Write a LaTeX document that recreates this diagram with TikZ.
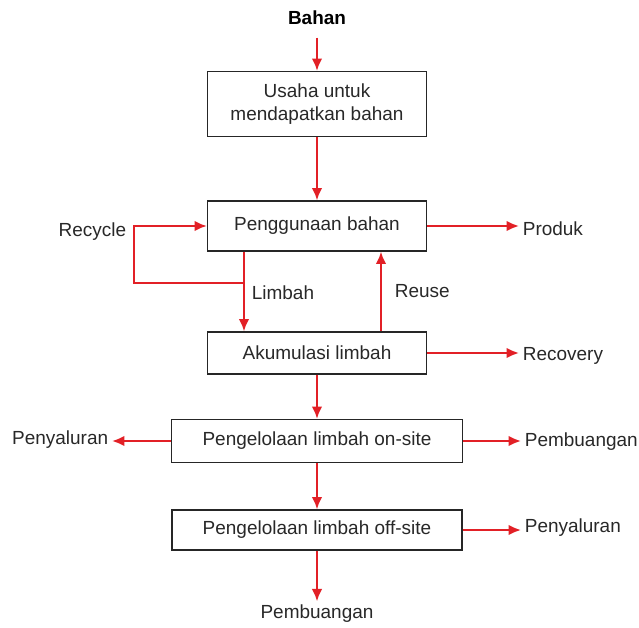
\documentclass[tikz,border=0pt]{standalone}
\usepackage{fontspec}
\setmainfont{Liberation Sans}
\usepackage{tikz}
\usetikzlibrary{arrows.meta}
\definecolor{flowred}{RGB}{226,32,38}
\definecolor{textgray}{RGB}{40,40,40}
\tikzstyle{block} = [draw=black!85, line width=0.8pt, fill=white, rectangle, inner sep=0pt, align=center, text=textgray]
\tikzstyle{tag} = [inner sep=2pt, text=textgray]
\tikzstyle{flow} = [draw=flowred, line width=1.2pt, -{Latex[length=7pt, width=6pt]}]

\begin{document}
\begin{tikzpicture}[x=0.02cm, y=-0.02cm, font=\fontsize{10.8}{13}\selectfont]
  \useasboundingbox (0, 0) rectangle (639, 628);

  \node[tag, font=\fontsize{10.8}{13}\selectfont\bfseries, text=black] at (317, 18) (bahan) {Bahan};
  \node[block, minimum width=4.38cm, minimum height=1.3cm] at (317, 104) (usaha) {Usaha untuk\\mendapatkan bahan};
  \node[block, minimum width=4.38cm, minimum height=1.0cm] at (317, 226) (guna) {Penggunaan bahan};
  \node[block, minimum width=4.38cm, minimum height=0.84cm] at (317, 353) (akum) {Akumulasi limbah};
  \node[block, minimum width=5.82cm, minimum height=0.86cm] at (317, 441) (onsite) {Pengelolaan limbah on-site};
  \node[block, minimum width=5.8cm, minimum height=0.8cm] at (317, 530) (offsite) {Pengelolaan limbah off-site};

  \node[tag, anchor=west] at (519, 229) (produk) {Produk};
  \node[tag, anchor=east] at (130, 232) (recycle) {Recycle};
  \node[tag, anchor=west] at (248, 293) (limbah) {Limbah};
  \node[tag, anchor=west] at (391, 291) (reuse) {Reuse};
  \node[tag, anchor=west] at (519, 356) (recovery) {Recovery};
  \node[tag, anchor=east] at (112, 440) (salurkiri) {Penyaluran};
  \node[tag, anchor=west] at (521, 442) (buangkanan) {Pembuangan};
  \node[tag, anchor=west] at (521, 528) (salurkanan) {Penyaluran};
  \node[tag] at (317, 614) (buangbawah) {Pembuangan};

  \coordinate (split) at (244, 283);
  \coordinate (corner) at (134, 283);
  \coordinate (reusex) at (381, 283);

  \draw[flow, shorten <=5pt] (bahan) -- (usaha);
  \draw[flow] (usaha) -- (guna);
  \draw[flow] (guna.east) -- (guna.east -| produk.west);
  \draw[flow] (split) -- (corner) |- (guna.west);
  \draw[flow] (guna.south -| split) -- (akum.north -| split);
  \draw[flow] (akum.north -| reusex) -- (guna.south -| reusex);
  \draw[flow] (akum.east) -- (akum.east -| recovery.west);
  \draw[flow] (akum) -- (onsite);
  \draw[flow] (onsite.west) -- (onsite.west -| salurkiri.east);
  \draw[flow] (onsite.east) -- (onsite.east -| buangkanan.west);
  \draw[flow] (onsite) -- (offsite);
  \draw[flow] (offsite.east) -- (offsite.east -| salurkanan.west);
  \draw[flow] (offsite) -- (buangbawah);

\end{tikzpicture}
\end{document}
